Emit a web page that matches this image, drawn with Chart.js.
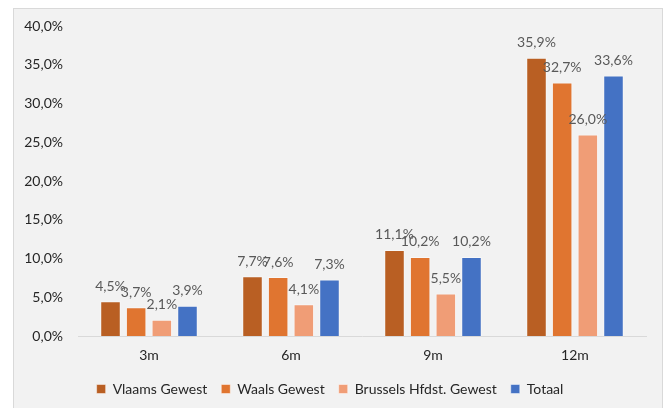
<!DOCTYPE html>
<html>
<head>
<meta charset="utf-8">
<script src="https://cdn.jsdelivr.net/npm/chart.js@4/dist/chart.umd.min.js"></script>
<style>
  html, body { margin: 0; padding: 0; background: #fff; overflow: hidden; }
  #frame {
    position: absolute; left: 13px; top: 8px;
    width: 648px; height: 402px;
    background: #f2f2f2; border: 1px solid #d9d9d9;
  }
  canvas { display: block; }
</style>
</head>
<body>
<div id="frame"><canvas id="chart" width="648" height="397"></canvas></div>
<script>
// categories + series (percent)
var periods = ['3m', '6m', '9m', '12m'];
var vlaams = [4.5, 7.7, 11.1, 35.9];
var waals = [3.7, 7.6, 10.2, 32.7];
var brussel = [2.1, 4.1, 5.5, 26.0];
var totaal = [3.9, 7.3, 10.2, 33.6];

var FONT = "Lato, 'Open Sans', sans-serif";
Chart.defaults.font.family = FONT;
Chart.defaults.font.size = 14;
Chart.defaults.color = '#262626';

function pct(v) {
    return v.toFixed(1).replace('.', ',') + '%';
}

// labels above the bars
var valueLabels = {
    id: 'valueLabels',
    afterDatasetsDraw: function (chart) {
        var ctx = chart.ctx;
        ctx.save();
        ctx.font = '14px ' + FONT;
        ctx.fillStyle = '#595959';
        ctx.textAlign = 'center';
        ctx.textBaseline = 'middle';
        chart.data.datasets.forEach(function (ds, i) {
            chart.getDatasetMeta(i).data.forEach(function (bar, j) {
                ctx.fillText(pct(ds.data[j]), bar.x, bar.y - 15);
            });
        });
        ctx.restore();
    }
};

function serie(label, values, color) {
    return {
        label: label,
        data: values,
        backgroundColor: color,
        borderColor: 'rgba(255,255,255,0.45)',
        borderWidth: 1,
        categoryPercentage: 0.723,
        barPercentage: 0.8
    };
}

var ctx = document.getElementById('chart').getContext('2d');
var chart = new Chart(ctx, {
    type: 'bar',
    data: {
        labels: periods,
        datasets: [
            serie('Vlaams Gewest', vlaams, '#b95f23'),
            serie('Waals Gewest', waals, '#e07530'),
            serie('Brussels Hfdst. Gewest', brussel, '#f09d76'),
            serie('Totaal', totaal, '#4472c4')
        ]
    },
    options: {
        responsive: false,
        animation: false,
        layout: { padding: { top: 17, right: 16, bottom: 0, left: 0 } },
        plugins: {
            tooltip: { enabled: false },
            legend: {
                position: 'bottom',
                labels: {
                    boxWidth: 9,
                    boxHeight: 9,
                    padding: 14,
                    color: '#262626',
                    font: { size: 14 }
                }
            }
        },
        scales: {
            x: {
                grid: { display: false, drawTicks: false },
                border: { display: true, color: '#d9d9d9', width: 1 },
                ticks: { padding: 11, color: '#262626' },
                afterFit: function (s) { s.height = 32; }
            },
            y: {
                min: 0,
                max: 40,
                grid: { display: false, drawTicks: false },
                border: { display: false },
                ticks: {
                    stepSize: 5,
                    padding: 15,
                    color: '#262626',
                    callback: function (v) { return pct(v); }
                },
                afterFit: function (s) {
                    s.width = 64;
                    s.paddingTop = 0;
                    s.paddingBottom = 0;
                }
            }
        }
    },
    plugins: [valueLabels]
});
</script>
</body>
</html>
